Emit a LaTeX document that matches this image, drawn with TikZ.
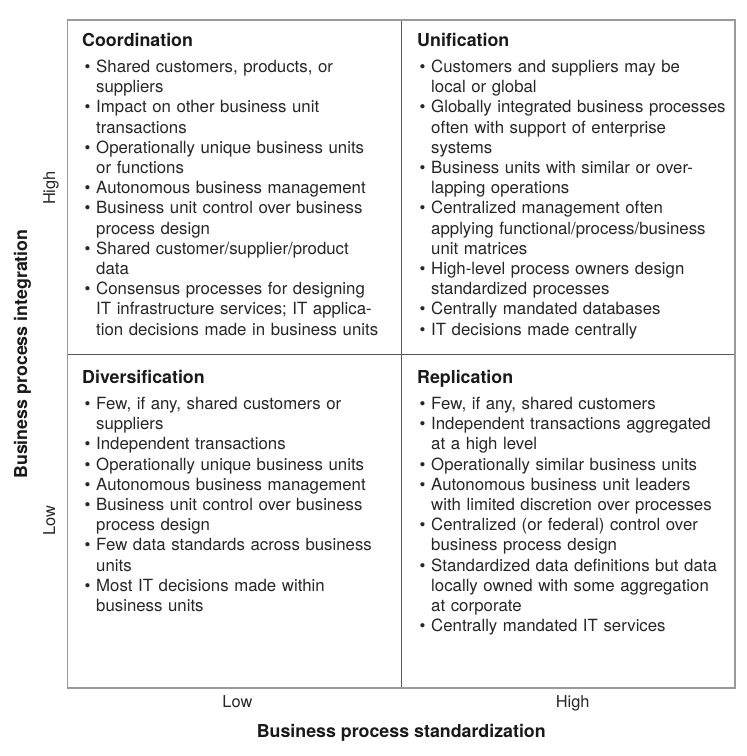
\documentclass[tikz,border=0pt]{standalone}
\usepackage{fontspec}
\setmainfont{TeX Gyre Heros}
\usepackage{tikz}
\usetikzlibrary{positioning}
\def\bul{\makebox[14pt][l]{\hspace{2.5pt}\textbullet}}
\def\cont{\hspace*{14pt}}

\begin{document}
\begin{tikzpicture}[x=1pt,y=1pt,
		cell/.style={minimum width=333.75pt,minimum height=334pt,inner sep=0pt,outer sep=0pt},
		head/.style={anchor=base west,inner sep=0pt,text=black!90,font=\fontsize{17.8}{21}\selectfont\bfseries},
		items/.style={anchor=base west,inner sep=0pt,text width=330pt,align=left,text=black!85,
			font=\fontsize{16.8}{20.2}\selectfont},
		tick/.style={anchor=base,inner sep=0pt,text=black!85,font=\fontsize{16.4}{20}\selectfont},
		axistitle/.style={anchor=base,inner sep=0pt,text=black!90,font=\fontsize{17.8}{21}\selectfont\bfseries},
		frame/.style={draw=black!40,line width=1.6pt},
		divider/.style={draw=black!65,line width=0.9pt}]
		\useasboundingbox (0,0) rectangle (747,-756);
		
		% the four cells
		\node[cell] (tl) at (234.4,-187) {};
		\node[cell] (tr) [right=0pt of tl] {};
		\node[cell] (bl) [below=0pt of tl] {};
		\node[cell] (br) [below=0pt of tr] {};
		
		\draw[divider] (tl.north east) -- (bl.south east);
		\draw[divider] (tl.south west) -- (tr.south east);
		\draw[frame] (tl.north west) rectangle (br.south east);
		
		% Coordination
		\node[head] (coordhead) at ([xshift=14.5pt,yshift=-26.5pt]tl.north west) {Coordination};
		\node[items] (coorditems) at ([yshift=-26pt]coordhead.base west) {%
			\bul Shared customers, products, or\\
			\cont suppliers\\
			\bul Impact on other business unit\\
			\cont transactions\\
			\bul Operationally unique business units\\
			\cont or functions\\
			\bul Autonomous business management\\
			\bul Business unit control over business\\
			\cont process design\\
			\bul Shared customer/supplier/product\\
			\cont data\\
			\bul Consensus processes for designing\\
			\cont IT infrastructure services; IT applica-\\
			\cont tion decisions made in business units};
		
		% Unification
		\node[head] (unifhead) at ([xshift=15.75pt,yshift=-26.5pt]tr.north west) {Unification};
		\node[items] (unifitems) at ([yshift=-26pt]unifhead.base west) {%
			\bul Customers and suppliers may be\\
			\cont local or global\\
			\bul Globally integrated business processes\\
			\cont often with support of enterprise\\
			\cont systems\\
			\bul Business units with similar or over-\\
			\cont lapping operations\\
			\bul Centralized management often\\
			\cont applying functional/process/business\\
			\cont unit matrices\\
			\bul High-level process owners design\\
			\cont standardized processes\\
			\bul Centrally mandated databases\\
			\bul IT decisions made centrally};
		
		% Diversification
		\node[head] (divhead) at ([xshift=14.5pt,yshift=-29.5pt]bl.north west) {Diversification};
		\node[items] (divitems) at ([yshift=-26pt]divhead.base west) {%
			\bul Few, if any, shared customers or\\
			\cont suppliers\\
			\bul Independent transactions\\
			\bul Operationally unique business units\\
			\bul Autonomous business management\\
			\bul Business unit control over business\\
			\cont process design\\
			\bul Few data standards across business\\
			\cont units\\
			\bul Most IT decisions made within\\
			\cont business units};
		
		% Replication
		\node[head] (replhead) at ([xshift=15.75pt,yshift=-29.5pt]br.north west) {Replication};
		\node[items] (replitems) at ([yshift=-26pt]replhead.base west) {%
			\bul Few, if any, shared customers\\
			\bul Independent transactions aggregated\\
			\cont at a high level\\
			\bul Operationally similar business units\\
			\bul Autonomous business unit leaders\\
			\cont with limited discretion over processes\\
			\bul Centralized (or federal) control over\\
			\cont business process design\\
			\bul Standardized data definitions but data\\
			\cont locally owned with some aggregation\\
			\cont at corporate\\
			\bul Centrally mandated IT services};
		
		% axes
		\node[tick,rotate=90] (yhigh) at ([xshift=-12.5pt,yshift=-1pt]tl.west) {High};
		\node[tick,rotate=90] (ylow) at ([xshift=-12.5pt]bl.west) {Low};
		\node[tick] (xlow) at ([xshift=3pt,yshift=-19.5pt]bl.south) {Low};
		\node[tick] (xhigh) at ([xshift=4.5pt,yshift=-19.5pt]br.south) {High};
		\node[axistitle,rotate=90] (ytitle) at ([xshift=-40.5pt]tl.south west) {Business process integration};
		\node[axistitle] (xtitle) at ([yshift=-49pt]bl.south east) {Business process standardization};
\end{tikzpicture}
\end{document}
